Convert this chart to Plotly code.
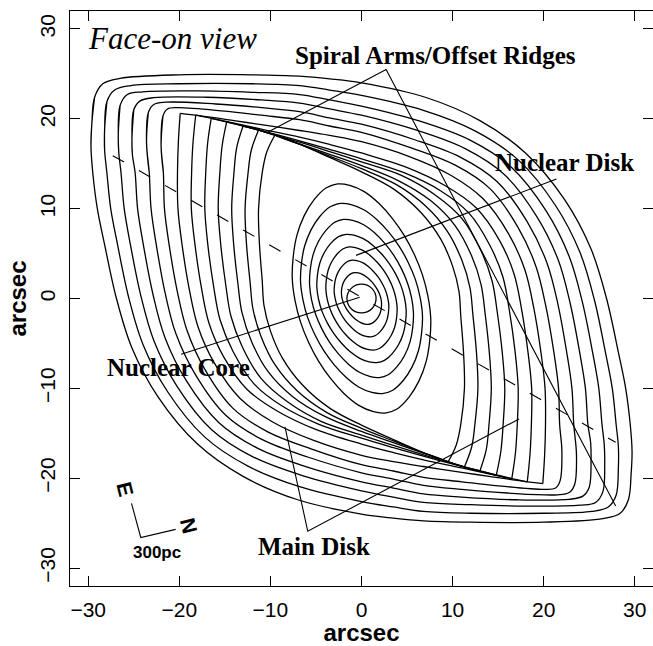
import plotly.graph_objects as go

# ---------------- data (arcsec) ----------------
# Outer (main-disk) orbits: one half of each closed orbit, the other half is
# the same half rotated by 180 degrees about the centre.
outer_orbit_x = [
    [-29.6, -29.3, -28.4, -26.5, -20, -12, -6.8, -3.5, 0, 7.0, 13.0, 18.0, 22.3, 25.2, 26.9, 28.2, 29.0, 29.5, 29.7, 29.6],
    [-28.2, -27.95, -27.1, -25.3, -20, -12, -6.8, -3.5, 0, 6.71, 12.46, 17.23, 21.28, 23.99, 25.57, 26.78, 27.53, 27.95, 28.2, 28.2],
    [-26.7, -26.5, -25.7, -24.0, -18, -12, -6.8, -3.5, 0, 6.42, 11.92, 16.45, 20.25, 22.78, 24.23, 25.37, 26.05, 26.4, 26.65, 26.7],
    [-25.2, -25.0, -24.3, -22.8, -17, -11, -6.8, -3.5, 0, 6.13, 11.38, 15.68, 19.23, 21.58, 22.9, 23.95, 24.58, 24.85, 25.15, 25.2],
    [-23.6, -23.4, -22.8, -21.5, -16, -11, -6.8, -3.5, 0, 5.83, 10.83, 14.9, 18.2, 20.37, 21.57, 22.53, 23.1, 23.3, 23.6],
    [-22.0, -21.8, -21.3, -20.2, -15, -11, -6.8, -3.5, 0, 5.54, 10.29, 14.13, 17.18, 19.16, 20.23, 21.12, 21.63, 21.75, 22.0],
    [-19.9, -17.8, -14, -11, -6.8, -3.5, 0, 5.25, 9.75, 13.35, 16.15, 17.95, 18.9, 19.7, 20.15, 20.2, 20.1, 19.9],
    [-18.2, -15.5, -11, -6.8, -3.5, 0, 4.96, 9.21, 12.58, 15.13, 16.74, 17.57, 18.28, 18.68, 18.65, 18.5, 18.2],
    [-16.5, -13, -11, -6.8, -3.5, 0, 4.67, 8.67, 11.8, 14.1, 15.53, 16.23, 16.87, 17.2, 17.1, 16.9, 16.5],
    [-14.8, -12, -10.5, -6.8, -3.5, 0, 4.38, 8.13, 11.03, 13.08, 14.33, 14.9, 15.45, 15.73, 15.55, 15.3, 14.8],
    [-13.0, -12, -10, -8, -6.8, -3.5, 0, 4.08, 7.58, 10.25, 12.05, 13.12, 13.57, 14.03, 14.25, 14.0, 13.7, 13.0],
    [-11.3, -10, -7, -5.5, -3.5, 0, 3.79, 7.04, 9.48, 11.03, 11.91, 12.23, 12.62, 12.78, 12.45, 12.1, 11.3],
    [-9.5, -7, -3.5, 0, 3.5, 6.5, 8.7, 10.0, 10.7, 10.9, 11.2, 11.3, 10.9, 10.4, 9.5],
]
outer_orbit_y = [
    [19.5, 22.4, 23.9, 24.5, 24.9, 24.9, 24.75, 24.45, 24.0, 22.4, 19.8, 16.2, 11.0, 5.5, 0.0, -6.0, -10.0, -14.0, -17.0, -19.5],
    [18.8, 21.9, 23.2, 23.7, 23.9, 23.9, 23.7, 23.2, 22.6, 20.97, 18.66, 15.4, 10.38, 5.11, -0.17, -6.0, -10.0, -14.0, -16.5, -18.8],
    [18.3, 21.5, 22.7, 23.0, 23.1, 22.95, 22.7, 22.1, 21.4, 19.73, 17.62, 14.6, 9.77, 4.72, -0.33, -6.0, -10.0, -14.0, -16.3, -18.3],
    [17.8, 21.0, 22.0, 22.35, 22.4, 22.1, 21.75, 21.1, 20.4, 18.7, 16.68, 13.8, 9.15, 4.33, -0.5, -6.0, -10.0, -14.0, -16.0, -17.8],
    [17.4, 20.7, 21.6, 21.85, 21.65, 21.25, 20.8, 20.1, 19.4, 17.67, 15.74, 13.0, 8.53, 3.93, -0.67, -6.0, -10.0, -14.0, -17.4],
    [17.0, 20.3, 21.1, 21.25, 20.85, 20.4, 19.9, 19.2, 18.5, 16.73, 14.84, 12.2, 7.92, 3.54, -0.83, -6.0, -10.0, -14.0, -17.0],
    [20.6, 20.35, 19.8, 19.35, 18.7, 18.15, 17.45, 15.8, 13.75, 11.1, 7.2, 3.15, -1.0, -6.0, -10.0, -14.0, -17.5, -20.6],
    [20.4, 19.85, 18.85, 17.95, 17.15, 16.2, 14.6, 12.55, 10.1, 6.5, 2.76, -1.17, -6.0, -10.0, -14.0, -17.3, -20.4],
    [20.05, 19.2, 18.68, 17.55, 16.6, 15.55, 14.0, 12.0, 9.5, 5.9, 2.37, -1.33, -6.0, -10.0, -14.0, -17.2, -20.05],
    [19.65, 18.95, 18.5, 17.4, 16.35, 15.2, 13.7, 11.5, 8.9, 5.4, 1.98, -1.5, -6.0, -10.0, -14.0, -17.0, -19.65],
    [19.2, 18.95, 18.35, 17.6, 17.2, 16.05, 14.8, 13.1, 10.9, 8.15, 4.83, 1.58, -1.67, -6.0, -10.0, -14.0, -16.8, -19.2],
    [18.75, 18.35, 17.25, 16.65, 15.85, 14.45, 12.7, 10.3, 7.4, 4.22, 1.19, -1.83, -6.0, -10.0, -14.0, -16.5, -18.75],
    [18.2, 17.25, 15.7, 14.1, 12.2, 9.6, 6.6, 3.6, 0.8, -2.0, -6.0, -10.0, -14.0, -16.3, -18.2],
]
outer_orbit_cusped = [False, False, False, False, False, False,
                      True, True, True, True, True, True, True]

# Nuclear-disk orbits: one half (right side, top tip -> bottom tip);
# the left side is the same half rotated by 180 degrees.
nuclear_orbit_x = [
    [-2.6, -1.3, 0.3, 1.9, 3.4, 4.7, 5.8, 6.7, 7.3, 7.6, 7.5, 7.1, 6.3, 5.2, 3.9],
    [-2.29, -1.14, 0.26, 1.67, 2.99, 4.14, 5.10, 5.90, 6.42, 6.69, 6.60, 6.25, 5.54, 4.58, 3.43],
    [-1.95, -0.98, 0.23, 1.43, 2.55, 3.53, 4.35, 5.03, 5.48, 5.70, 5.63, 5.33, 4.73, 3.90, 2.93],
    [-1.68, -0.84, 0.19, 1.23, 2.19, 3.03, 3.74, 4.32, 4.71, 4.90, 4.84, 4.58, 4.06, 3.35, 2.52],
    [-1.34, -0.67, 0.15, 0.98, 1.75, 2.42, 2.99, 3.45, 3.76, 3.91, 3.86, 3.66, 3.24, 2.68, 2.01],
    [-1.03, -0.51, 0.12, 0.75, 1.34, 1.86, 2.29, 2.65, 2.88, 3.00, 2.96, 2.80, 2.49, 2.05, 1.54],
    [-0.75, -0.38, 0.09, 0.55, 0.99, 1.36, 1.68, 1.94, 2.12, 2.20, 2.18, 2.06, 1.83, 1.51, 1.13],
]
nuclear_orbit_y = [
    [12.75, 12.6, 11.9, 10.6, 8.9, 7.0, 4.9, 2.6, 0.2, -2.2, -4.6, -7.0, -9.2, -11.0, -12.3],
    [10.58, 10.46, 9.88, 8.80, 7.39, 5.81, 4.07, 2.16, 0.17, -1.83, -3.82, -5.81, -7.64, -9.13, -10.21],
    [8.80, 8.69, 8.21, 7.31, 6.14, 4.83, 3.38, 1.79, 0.14, -1.52, -3.17, -4.83, -6.35, -7.59, -8.49],
    [7.14, 7.06, 6.66, 5.94, 4.98, 3.92, 2.74, 1.46, 0.11, -1.23, -2.58, -3.92, -5.15, -6.16, -6.89],
    [5.74, 5.67, 5.36, 4.77, 4.01, 3.15, 2.21, 1.17, 0.09, -0.99, -2.07, -3.15, -4.14, -4.95, -5.54],
    [4.27, 4.22, 3.99, 3.55, 2.98, 2.35, 1.64, 0.87, 0.07, -0.74, -1.54, -2.35, -3.08, -3.69, -4.12],
    [2.87, 2.84, 2.68, 2.39, 2.0, 1.58, 1.10, 0.59, 0.05, -0.50, -1.04, -1.58, -2.07, -2.48, -2.77],
]

core_center = [0.0, 0.0]
core_radius = 1.6

bar_axis_x = [-27.3, 27.9]
bar_axis_y = [15.9, -16.0]

spiral_pointer_x = [-10.3, 2.7, 27.9]
spiral_pointer_y = [18.5, 25.5, -23.1]
nucdisk_pointer_x = [21.4, -0.6]
nucdisk_pointer_y = [13.3, 4.8]
nuccore_pointer_x = [-19.8, -0.2]
nuccore_pointer_y = [-6.2, 0.15]
maindisk_pointer_x = [-8.4, -5.9, 17.3]
maindisk_pointer_y = [-14.3, -25.9, -13.4]
compass_x = [-25.25, -24.23, -20.4]
compass_y = [-22.8, -26.6, -25.7]

tick_values = [-30, -20, -10, 0, 10, 20, 30]
axis_range = [-32, 32]

labels = [
    # text, x, y
    ("Face-on view", -20.7, 28.9),
    ("Spiral Arms/Offset Ridges", 8.1, 27.0),
    ("Nuclear Disk", 22.3, 15.1),
    ("Nuclear Core", -20.1, -7.7),
    ("Main Disk", -5.2, -27.6),
]
compass_labels = [("E", -26.0, -21.2), ("N", -19.0, -25.3)]
scale_label = ("300pc", -22.4, -28.3)

# ---------------- build figure ----------------
def neg(v):
    return [-a for a in v]

ox, oy = [], []
for hx, hy, cusp in zip(outer_orbit_x, outer_orbit_y, outer_orbit_cusped):
    if cusp:
        ox += hx + [None] + neg(hx) + [None]
        oy += hy + [None] + neg(hy) + [None]
    else:
        lx = hx[:-1] + neg(hx)[:-1]
        ly = hy[:-1] + neg(hy)[:-1]
        ox += [lx[-1]] + lx + [lx[0], lx[1], None]
        oy += [ly[-1]] + ly + [ly[0], ly[1], None]

nx_, ny_ = [], []
for hx, hy in zip(nuclear_orbit_x, nuclear_orbit_y):
    lx = hx + neg(hx)
    ly = hy + neg(hy)
    nx_ += [lx[-1]] + lx + [lx[0], lx[1], None]
    ny_ += [ly[-1]] + ly + [ly[0], ly[1], None]

fig = go.Figure()
orbit_line = dict(color="black", width=1.3, shape="spline", smoothing=1.0)
fig.add_trace(go.Scatter(x=ox, y=oy, mode="lines", line=orbit_line,
                         connectgaps=False, hoverinfo="skip"))
fig.add_trace(go.Scatter(x=nx_, y=ny_, mode="lines",
                         line=dict(color="black", width=1.3, shape="spline", smoothing=1.1),
                         connectgaps=False, hoverinfo="skip"))

fig.add_trace(go.Scatter(x=bar_axis_x, y=bar_axis_y, mode="lines",
                         line=dict(color="black", width=1.1, dash="13px,17px"),
                         hoverinfo="skip"))

px_, py_ = [], []
for xs, ys in [(spiral_pointer_x, spiral_pointer_y),
               (nucdisk_pointer_x, nucdisk_pointer_y),
               (nuccore_pointer_x, nuccore_pointer_y),
               (maindisk_pointer_x, maindisk_pointer_y),
               (compass_x, compass_y)]:
    px_ += xs + [None]
    py_ += ys + [None]
fig.add_trace(go.Scatter(x=px_, y=py_, mode="lines",
                         line=dict(color="black", width=1.1),
                         connectgaps=False, hoverinfo="skip"))

fig.add_shape(type="circle", xref="x", yref="y",
              x0=core_center[0] - core_radius, x1=core_center[0] + core_radius,
              y0=core_center[1] - core_radius, y1=core_center[1] + core_radius,
              line=dict(color="black", width=1.3))

serif = "Liberation Serif, Times New Roman, serif"
sans = "Liberation Sans, Arial, Helvetica, sans-serif"

for text, x, y in labels:
    if text == "Face-on view":
        f = dict(family=serif, size=31, color="black", style="italic")
    else:
        f = dict(family=serif, size=25, color="black", weight="bold")
    fig.add_annotation(x=x, y=y, text=text, showarrow=False, font=f,
                       xanchor="center", yanchor="middle")

for text, x, y in compass_labels:
    fig.add_annotation(x=x, y=y, text=text, showarrow=False, textangle=76,
                       font=dict(family=sans, size=21, color="black", weight="bold"),
                       xanchor="center", yanchor="middle")
fig.add_annotation(x=scale_label[1], y=scale_label[2], text=scale_label[0],
                   showarrow=False,
                   font=dict(family=sans, size=17, color="black", weight="bold"),
                   xanchor="center", yanchor="middle")

axis_common = dict(
    range=axis_range, tickvals=tick_values, ticks="inside", ticklen=10,
    tickwidth=1, tickcolor="black", showline=True, linecolor="black",
    linewidth=1, mirror="ticks", showgrid=False, zeroline=False,
    tickfont=dict(family=sans, size=21, color="black"), automargin=False,
)
fig.update_layout(
    width=653, height=646,
    margin=dict(l=70, r=0, t=11, b=60),
    paper_bgcolor="white", plot_bgcolor="white",
    showlegend=False,
    xaxis=dict(**axis_common, ticklabelstandoff=5,
               title=dict(text="arcsec", standoff=6,
                          font=dict(family=sans, size=24, color="black", weight="bold"))),
    yaxis=dict(**axis_common, tickangle=-90, ticklabelstandoff=6,
               title=dict(text="arcsec", standoff=2,
                          font=dict(family=sans, size=24, color="black", weight="bold"))),
)

fig.write_html("out.html")
